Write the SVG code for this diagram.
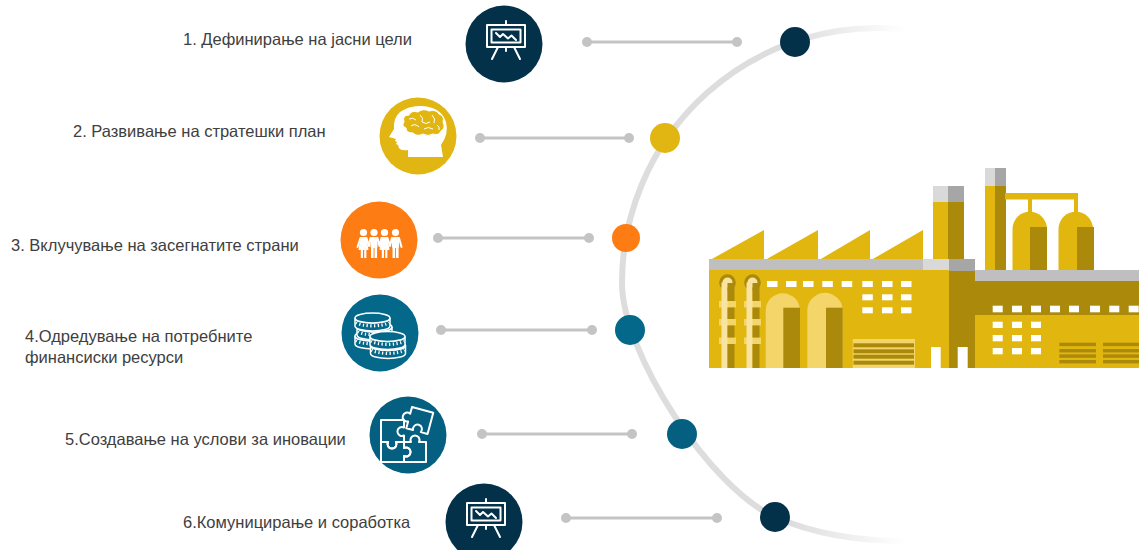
<svg xmlns="http://www.w3.org/2000/svg" width="1139" height="550" viewBox="0 0 1139 550">
  <style>
    .label { font-family: "Liberation Sans", Arial, sans-serif; font-size: 16.5px; fill: #404040; }
    .link { stroke: #c4c4c4; stroke-width: 3; fill: none; }
    .end { fill: #c4c4c4; }
    .ico { fill: none; stroke: #ffffff; stroke-width: 2; stroke-linejoin: round; stroke-linecap: round; }
    .yel { fill: #e1b60f; }
    .drk { fill: #ab8a0b; }
    .lgt { fill: #f3d56a; }
    .pal { fill: #f8e4a0; }
    .win { fill: #ffffff; }
    .band { fill: #bfbfbf; }
    .gl { fill: #d9d9d9; }
    .gd { fill: #a6a6a6; }
  </style>
  <defs>
    <linearGradient id="arcFade" gradientUnits="userSpaceOnUse" x1="790" y1="0" x2="905" y2="0">
      <stop offset="0" stop-color="#dddddd" stop-opacity="1"/>
      <stop offset="1" stop-color="#dddddd" stop-opacity="0"/>
    </linearGradient>
    <!-- easel with chart -->
    <g id="easel">
      <rect x="-17" y="-19" width="38" height="22" class="ico"/>
      <rect x="-12.5" y="-14.5" width="29" height="13" class="ico" stroke-width="1.4"/>
      <line x1="2" y1="-19" x2="2" y2="-23" class="ico"/>
      <line x1="-6" y1="3" x2="-12" y2="15" class="ico"/>
      <line x1="10" y1="3" x2="16" y2="15" class="ico"/>
      <line x1="2" y1="3" x2="2" y2="7" class="ico"/>
      <polyline points="-8,-11 -4,-7 -1,-10 4,-5.5 7.5,-8.5 12,-4" class="ico" stroke-width="1.4"/>
    </g>
    <!-- single coin seen from the side -->
    <g id="coin">
      <path d="M-17.5,0 V8 A17.5,5 0 0 0 17.5,8 V0 A17.5,5 0 0 1 -17.5,0 Z" fill="#03688a" stroke="#fff" stroke-width="1.5"/>
      <path d="M-16.5,4.5 A17.5,5 0 0 0 16.5,4.5" fill="none" stroke="#fff" stroke-width="3.2" stroke-dasharray="1.3 2.4"/>
      <ellipse cx="0" cy="0" rx="17.5" ry="5" fill="#03688a" stroke="#fff" stroke-width="1.5"/>
    </g>
  </defs>

  <!-- curved timeline -->
  <g id="timeline">
    <path d="M905,29.5 A255,255 0 0 0 622,283 C622,353 710.8,489 775,517 C821,537 870,541 905,541" fill="none" stroke="url(#arcFade)" stroke-width="6"/>
  </g>

  <!-- connectors -->
  <g id="connectors">
    <line x1="587" y1="42" x2="737" y2="42" class="link"/>
    <circle cx="587" cy="42" r="5" class="end"/><circle cx="737" cy="42" r="5" class="end"/>
    <line x1="480" y1="138" x2="629" y2="138" class="link"/>
    <circle cx="480" cy="138" r="5" class="end"/><circle cx="629" cy="138" r="5" class="end"/>
    <line x1="438" y1="238" x2="589" y2="238" class="link"/>
    <circle cx="438" cy="238" r="5" class="end"/><circle cx="589" cy="238" r="5" class="end"/>
    <line x1="441" y1="330" x2="592" y2="330" class="link"/>
    <circle cx="441" cy="330" r="5" class="end"/><circle cx="592" cy="330" r="5" class="end"/>
    <line x1="482" y1="434" x2="632" y2="434" class="link"/>
    <circle cx="482" cy="434" r="5" class="end"/><circle cx="632" cy="434" r="5" class="end"/>
    <line x1="566" y1="518" x2="717" y2="518" class="link"/>
    <circle cx="566" cy="518" r="5" class="end"/><circle cx="717" cy="518" r="5" class="end"/>
  </g>

  <!-- timeline markers -->
  <g id="markers">
    <circle cx="795" cy="42" r="15" fill="#04314a"/>
    <circle cx="665" cy="138" r="15" fill="#e2b612"/>
    <circle cx="626" cy="238" r="14" fill="#fd7c13"/>
    <circle cx="630" cy="330" r="15" fill="#04688a"/>
    <circle cx="682" cy="434" r="15" fill="#045f80"/>
    <circle cx="775" cy="517" r="15" fill="#04314a"/>
  </g>

  <!-- step 1 -->
  <g id="step1">
    <circle cx="504" cy="44" r="38.5" fill="#04314a"/>
    <use href="#easel" x="504" y="44"/>
    <text x="183" y="45" class="label">1. Дефинирање на јасни цели</text>
  </g>

  <!-- step 2 -->
  <g id="step2">
    <circle cx="418" cy="136" r="38.5" fill="#e2b612"/>
    <path d="M408,157 L408,150 Q401,151 399,148 L398,145 L396,144 L397,142 L395,141 L396,139 L389,137 L394,129 Q393,118 400,112 Q410,105 422,106 Q441,107 446,122 Q449,134 441,145 L443,157 Z" fill="#fff"/>
    <path d="M404,122 Q402,115 409,115 Q411,110 418,112 Q423,108 429,111 Q436,109 439,114 Q445,116 443,122 Q446,128 441,131 Q439,136 433,134 Q428,137 423,134 Q417,137 413,133 Q406,133 406,128 Q401,126 404,122 Z" fill="#e2b612" stroke="#fff" stroke-width="1"/>
    <path d="M409,119 Q413,117 416,120 M420,115 Q424,118 422,122 Q426,125 430,122 M432,115 Q436,119 434,123 M411,126 Q415,123 419,127 M424,129 Q428,126 433,129 M437,125 Q440,127 439,130" fill="none" stroke="#fff" stroke-width="1"/>
    <text x="73" y="137" class="label">2. Развивање на стратешки план</text>
  </g>

  <!-- step 3 -->
  <g id="step3">
    <circle cx="379" cy="240" r="38.5" fill="#fd7c13"/>
    <g fill="#fff">
      <circle cx="363.5" cy="232.5" r="3.6"/>
      <circle cx="374" cy="232.5" r="3.6"/>
      <circle cx="384.5" cy="232.5" r="3.6"/>
      <circle cx="395.5" cy="232.5" r="3.6"/>
      <!-- dresses and bodies -->
      <path d="M360.5,237 H366.5 L368.5,250 H358.5 Z"/>
      <rect x="370.5" y="237" width="7" height="11" rx="1.5"/>
      <path d="M381.5,237 H387.5 L389.5,250 H379.5 Z"/>
      <rect x="392" y="237" width="7" height="11" rx="1.5"/>
      <!-- legs -->
      <rect x="360.8" y="250" width="2.2" height="8"/><rect x="364.2" y="250" width="2.2" height="8"/>
      <rect x="371" y="247" width="2.6" height="11"/><rect x="374.5" y="247" width="2.6" height="11"/>
      <rect x="381.8" y="250" width="2.2" height="8"/><rect x="385.2" y="250" width="2.2" height="8"/>
      <rect x="392.5" y="247" width="2.6" height="11"/><rect x="396" y="247" width="2.6" height="11"/>
    </g>
    <path d="M360.5,238 L357.5,247 M366.5,238 L369,246 L370.5,238 M377.5,238 L379.5,246 L381.5,238 M387.5,238 L390,246 L392,238 M399,238 L401.5,247" class="ico" stroke-width="1.8"/>
    <text x="11" y="251" class="label">3. Вклучување на засегнатите страни</text>
  </g>

  <!-- step 4 -->
  <g id="step4">
    <circle cx="380" cy="333" r="38.5" fill="#03688a"/>
    <use href="#coin" x="372.5" y="336"/>
    <use href="#coin" x="374.5" y="327"/>
    <use href="#coin" x="372.5" y="318"/>
    <use href="#coin" x="388" y="345.5"/>
    <use href="#coin" x="387.5" y="336.5"/>
    <text x="25" y="342" class="label">4.Одредување на потребните</text>
    <text x="25" y="363" class="label">финансиски ресурси</text>
  </g>

  <!-- step 5 -->
  <g id="step5">
    <circle cx="408" cy="435" r="38.5" fill="#045f80"/>
    <g class="ico" stroke-width="1.6">
      <path d="M381,420 H404 V427.5 A4.5,4.5 0 1 0 404,435.5 V442 H396 A4.5,4.5 0 1 1 388,442 H381 Z"/>
      <path d="M381,442 H388 A4.5,4.5 0 1 0 396,442 H404 V448 A4.5,4.5 0 1 1 404,456 V462 H381 Z"/>
      <path d="M404,442 H411 A4.5,4.5 0 1 1 419,442 H426 V462 H404 V456 A4.5,4.5 0 1 0 404,448 Z"/>
      <path transform="translate(412,407) rotate(15)" d="M0,0 H22 V22 H15 A4.5,4.5 0 1 0 7,22 H0 V15 A4.5,4.5 0 1 1 0,7 Z"/>
    </g>
    <text x="65" y="445" class="label">5.Создавање на услови за иновации</text>
  </g>

  <!-- step 6 -->
  <g id="step6">
    <circle cx="484" cy="522" r="38.5" fill="#04314a"/>
    <use href="#easel" x="484" y="522"/>
    <text x="183" y="528" class="label">6.Комуницирање и соработка</text>
  </g>

  <!-- factory -->
  <g id="factory">
    <!-- sawtooth roof -->
    <polygon points="711,259.5 764,230 764,259.5" class="yel"/>
    <polygon points="766,259.5 818,230 818,259.5" class="yel"/>
    <polygon points="820,259.5 870,230 870,259.5" class="yel"/>
    <polygon points="872,259.5 923,230 923,259.5" class="yel"/>
    <!-- chimneys -->
    <rect x="933" y="186" width="15" height="16" class="gl"/>
    <rect x="948" y="186" width="16" height="16" class="gd"/>
    <rect x="933" y="202" width="15" height="58" class="yel"/>
    <rect x="948" y="202" width="16" height="58" class="drk"/>
    <rect x="985" y="168" width="10" height="18" class="gl"/>
    <rect x="995" y="168" width="11" height="18" class="gd"/>
    <rect x="985" y="186" width="10" height="85" class="yel"/>
    <rect x="995" y="186" width="11" height="85" class="drk"/>
    <!-- tanks and pipe -->
    <rect x="1005" y="193" width="73" height="6.5" class="yel"/>
    <rect x="1028" y="199" width="4" height="16" class="yel"/>
    <rect x="1074" y="199" width="4" height="16" class="yel"/>
    <path d="M1012.5,271 V229 A17.25,17.25 0 0 1 1047,229 V271 Z" class="yel"/>
    <rect x="1030" y="227" width="17" height="44" class="drk"/>
    <path d="M1058.5,271 V229 A17.25,17.25 0 0 1 1093,229 V271 Z" class="yel"/>
    <rect x="1077" y="227" width="17" height="44" class="drk"/>
    <!-- roof bands -->
    <rect x="709" y="259" width="214" height="11" class="band"/>
    <rect x="923" y="259" width="26" height="12" class="gl"/>
    <rect x="949" y="259" width="26" height="12" class="gd"/>
    <rect x="975" y="270" width="164" height="11" class="band"/>
    <!-- bodies -->
    <rect x="709" y="270" width="240" height="98" class="yel"/>
    <rect x="923" y="271" width="26" height="97" class="yel"/>
    <rect x="949" y="271" width="26" height="97" class="drk"/>
    <rect x="975" y="281" width="164" height="34" class="drk"/>
    <rect x="975" y="315" width="164" height="53" class="yel"/>
    <!-- pipes on the left wall -->
    <rect x="719" y="301" width="17" height="6.5" class="lgt"/>
    <rect x="719" y="319" width="17" height="6.5" class="lgt"/>
    <rect x="719" y="337.5" width="17" height="6.5" class="lgt"/>
    <rect x="744" y="301" width="17" height="6.5" class="lgt"/>
    <rect x="744" y="319" width="17" height="6.5" class="lgt"/>
    <rect x="744" y="337.5" width="17" height="6.5" class="lgt"/>
    <circle cx="727.5" cy="282.5" r="8.3" class="drk"/>
    <circle cx="727.5" cy="282.5" r="5" class="pal"/>
    <rect x="721.5" y="282.5" width="6" height="85.5" class="pal"/>
    <rect x="727.5" y="283" width="7" height="18" class="drk"/>
    <rect x="727.5" y="307.5" width="7" height="11.5" class="drk"/>
    <rect x="727.5" y="325.5" width="7" height="12" class="drk"/>
    <rect x="727.5" y="344" width="7" height="24" class="drk"/>
    <circle cx="752.5" cy="282.5" r="8.3" class="drk"/>
    <circle cx="752.5" cy="282.5" r="5" class="pal"/>
    <rect x="746.5" y="282.5" width="6" height="85.5" class="pal"/>
    <rect x="752.5" y="283" width="7" height="18" class="drk"/>
    <rect x="752.5" y="307.5" width="7" height="11.5" class="drk"/>
    <rect x="752.5" y="325.5" width="7" height="12" class="drk"/>
    <rect x="752.5" y="344" width="7" height="24" class="drk"/>
    <!-- arched doors -->
    <path d="M765.7,368 V310.5 A17.15,17.15 0 0 1 800,310.5 V368 Z" class="lgt"/>
    <rect x="783.3" y="307.7" width="16.7" height="60.3" class="drk"/>
    <path d="M807.3,368 V310.5 A17.7,17.7 0 0 1 842.7,310.5 V368 Z" class="lgt"/>
    <rect x="826" y="307.7" width="16.7" height="60.3" class="drk"/>
    <!-- windows -->
    <g class="win">
      <rect x="767" y="281" width="10.5" height="6"/>
      <rect x="786" y="281" width="10.5" height="6"/>
      <rect x="803" y="281" width="10.5" height="6"/>
      <rect x="822.3" y="281" width="10.5" height="6"/>
      <rect x="841.7" y="281" width="10.5" height="6"/>
      <rect x="862.3" y="281" width="10.5" height="6"/>
      <rect x="882" y="281" width="10.5" height="6"/>
      <rect x="901" y="281" width="10.5" height="6"/>
      <rect x="862.3" y="294.3" width="10.5" height="6"/>
      <rect x="882" y="294.3" width="10.5" height="6"/>
      <rect x="901" y="294.3" width="10.5" height="6"/>
      <rect x="862.3" y="307.3" width="10.5" height="6"/>
      <rect x="882" y="307.3" width="10.5" height="6"/>
      <rect x="901" y="307.3" width="10.5" height="6"/>
      <rect x="931" y="347" width="9.7" height="21"/>
      <rect x="957.7" y="347" width="10" height="21"/>
      <rect x="992.7" y="305.7" width="10" height="6.6"/>
      <rect x="1012" y="305.7" width="10" height="6.6"/>
      <rect x="1031" y="305.7" width="10" height="6.6"/>
      <rect x="1050" y="305.7" width="10" height="6.6"/>
      <rect x="1069" y="305.7" width="10" height="6.6"/>
      <rect x="1090" y="305.7" width="10" height="6.6"/>
      <rect x="1109.3" y="305.7" width="10" height="6.6"/>
      <rect x="1128.7" y="305.7" width="10" height="6.6"/>
      <rect x="992.7" y="321.7" width="10" height="6.3"/>
      <rect x="1012" y="321.7" width="10" height="6.3"/>
      <rect x="1031" y="321.7" width="10" height="6.3"/>
      <rect x="992.7" y="335" width="10" height="6.3"/>
      <rect x="1012" y="335" width="10" height="6.3"/>
      <rect x="1031" y="335" width="10" height="6.3"/>
      <rect x="992.7" y="348" width="10" height="6.3"/>
      <rect x="1012" y="348" width="10" height="6.3"/>
      <rect x="1031" y="348" width="10" height="6.3"/>
    </g>
    <!-- louvres -->
    <rect x="852.7" y="339" width="62.3" height="29" class="lgt"/>
    <rect x="853.5" y="343.3" width="60.5" height="4" class="drk"/>
    <rect x="853.5" y="349.3" width="60.5" height="4" class="drk"/>
    <rect x="853.5" y="354.7" width="60.5" height="4" class="drk"/>
    <rect x="853.5" y="360.7" width="60.5" height="4" class="drk"/>
    <rect x="1059.3" y="342.7" width="36.7" height="3.4" class="drk"/>
    <rect x="1059.3" y="349" width="36.7" height="3.4" class="drk"/>
    <rect x="1059.3" y="354.4" width="36.7" height="3.4" class="drk"/>
    <rect x="1059.3" y="360" width="36.7" height="3.4" class="drk"/>
    <rect x="1103" y="342.7" width="36" height="3.4" class="drk"/>
    <rect x="1103" y="349" width="36" height="3.4" class="drk"/>
    <rect x="1103" y="354.4" width="36" height="3.4" class="drk"/>
    <rect x="1103" y="360" width="36" height="3.4" class="drk"/>
  </g>
</svg>
